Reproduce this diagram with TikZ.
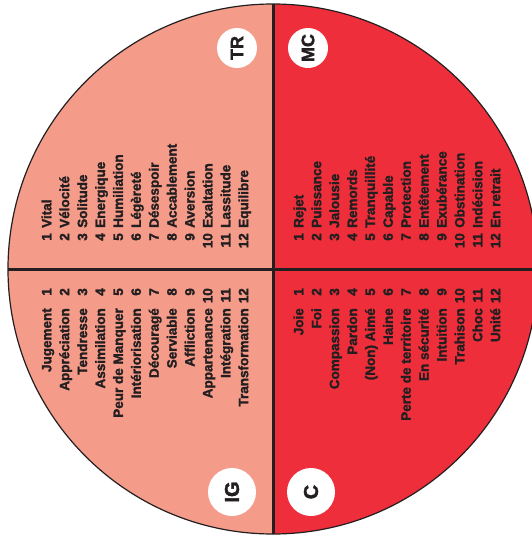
\documentclass[tikz,border=0pt]{standalone}
\usepackage{fontspec}
\setmainfont{Liberation Sans}[BoldFont={Liberation Sans Bold},BoldFeatures={FakeBold=1.8}]
\definecolor{salmon}{RGB}{245,155,137}
\definecolor{redq}{RGB}{238,46,58}
\definecolor{ink}{RGB}{35,31,32}
\begin{document}
\begin{tikzpicture}[x=1pt,y=-1pt,
  item/.style={rotate=90,inner sep=0pt,text=ink,font=\fontsize{13.5}{14}\selectfont\bfseries},
  badge/.style={circle,fill=white,inner sep=0pt},
  badgetext/.style={rotate=90,text=ink,font=\bfseries},
  divider/.style={draw=ink,line width=3pt}]
\useasboundingbox (0,0) rectangle (532,536);
\begin{scope}
\clip (0,0) rectangle (532,536);
\begin{scope}
\clip (273,269) circle (265);
\fill[salmon] (0,0) rectangle (273,536);
\fill[redq] (273,0) rectangle (532,536);
\end{scope}
\draw[ink,line width=1.2pt] (273,269) circle (265);
\coordinate (vt) at (273,4);
\coordinate (vb) at (273,534);
\coordinate (hl) at (8,269);
\coordinate (hr) at (532,269);
\draw[divider] (vt) -- (vb);
\draw[divider] (hl) -- (hr);
\end{scope}
% top-left (TR)
\foreach \w [count=\i] in {Vital,Vélocité,Solitude,Energique,Humiliation,Légèreté,Désespoir,Accablement,Aversion,Exaltation,Lassitude,Equilibre}{
  \pgfmathsetmacro{\xb}{46.5+17.9*(\i-1)+4.8}
  \node[item,anchor=base east] (tln\i) at (\xb,233) {\i};
  \node[item,anchor=base west] (tlw\i) at (\xb,228) {\w};
}
% top-right (MC)
\foreach \w [count=\i] in {Rejet,Puissance,Jalousie,Remords,Tranquillité,Capable,Protection,Entêtement,Exubérance,Obstination,Indécision,En retrait}{
  \pgfmathsetmacro{\xb}{298.5+17.9*(\i-1)+4.8}
  \node[item,anchor=base east] (trn\i) at (\xb,233) {\i};
  \node[item,anchor=base west] (trw\i) at (\xb,228) {\w};
}
% bottom-left (IG)
\foreach \w [count=\i] in {Jugement,Appréciation,Tendresse,Assimilation,Peur de Manquer,Intériorisation,Découragé,Serviable,Affliction,Appartenance,Intégration,Transformation}{
  \pgfmathsetmacro{\xb}{46.5+17.9*(\i-1)+4.8}
  \node[item,anchor=base east] (bln\i) at (\xb,288) {\i};
  \node[item,anchor=base east] (blw\i) at (\xb,308) {\w};
}
% bottom-right (C)
\foreach \w [count=\i] in {Joie,Foi,Compassion,Pardon,(Non) Aimé,Haine,Perte de territoire,En sécurité,Intuition,Trahison,Choc,Unité}{
  \pgfmathsetmacro{\xb}{298.5+17.9*(\i-1)+4.8}
  \node[item,anchor=base east] (brn\i) at (\xb,288) {\i};
  \node[item,anchor=base east] (brw\i) at (\xb,308) {\w};
}
% badges
\node[badge,minimum size=40pt] (tr) at (237,48) {};
\node[badgetext,font=\fontsize{18}{18}\selectfont\bfseries] (trl) at (tr.center) {TR};
\node[badge,minimum size=40pt] (mc) at (308,48) {};
\node[badgetext,font=\fontsize{18}{18}\selectfont\bfseries] (mcl) at (mc.center) {MC};
\node[badge,minimum size=48pt] (ig) at (232,492) {};
\node[badgetext,font=\fontsize{20}{20}\selectfont\bfseries] (igl) at (ig.center) {IG};
\node[badge,minimum size=48pt] (cc) at (311,492) {};
\node[badgetext,font=\fontsize{20}{20}\selectfont\bfseries] (ccl) at (cc.center) {C};
\end{tikzpicture}
\end{document}
